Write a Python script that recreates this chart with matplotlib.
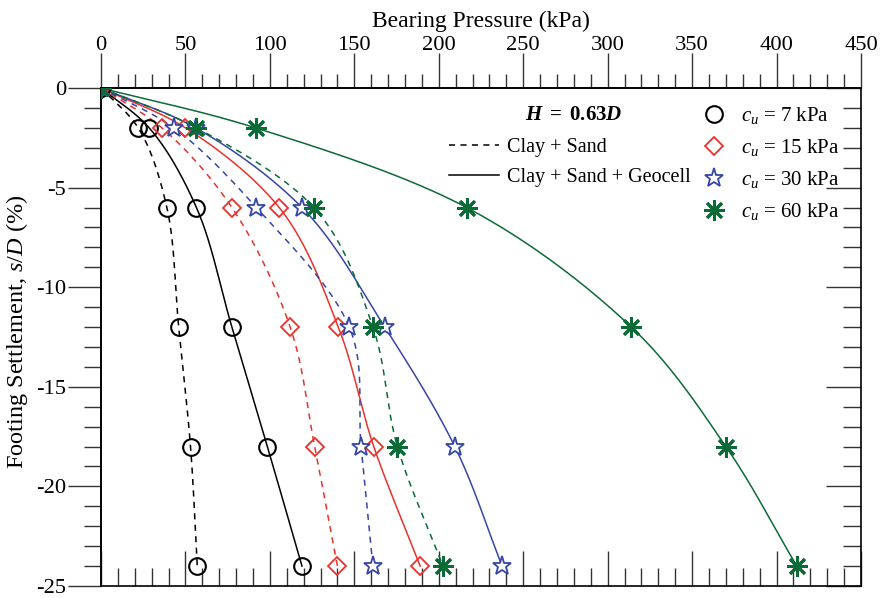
import numpy as np
import matplotlib
matplotlib.use("Agg")
import matplotlib.pyplot as plt
from matplotlib.lines import Line2D
from matplotlib.ticker import MultipleLocator

plt.rcParams['font.family'] = ['Liberation Serif', 'DejaVu Serif']
plt.rcParams['mathtext.fontset'] = 'custom'
plt.rcParams['mathtext.rm'] = 'Liberation Serif'
plt.rcParams['mathtext.it'] = 'Liberation Serif:italic'
plt.rcParams['mathtext.bf'] = 'Liberation Serif:bold'
plt.rcParams['mathtext.bfit'] = 'Liberation Serif:italic:bold'
plt.rcParams['axes.unicode_minus'] = False

# Footing settlement s/D (%)
settlement = [0, -2, -6, -12, -18, -24]

# Bearing pressure (kPa): clay + sand (unreinforced)
p_sand_7 = [0, 22, 39, 46, 53, 57]
p_sand_15 = [0, 36, 77.5, 112, 126.5, 140]
p_sand_30 = [0, 43, 92, 147, 154, 161]
p_sand_60 = [0, 56.5, 126, 161, 175.5, 202.5]

# Bearing pressure (kPa): clay + sand + geocell
p_cell_7 = [0, 28.5, 56.5, 77.5, 98.5, 119]
p_cell_15 = [0, 50, 105.5, 140.5, 161.5, 189]
p_cell_30 = [0, 56, 119, 168, 209.5, 237.5]
p_cell_60 = [0, 91.5, 216.5, 314, 370, 412]

cu_labels = ['7', '15', '30', '60']
colors = ['#000000', '#e8322b', '#3546a6', '#0b6b36']


def smooth(xs, ys, xr=450.0, yr=25.0, n=40):
    """Centripetal Catmull-Rom curve through the points (in scaled space)."""
    P = np.column_stack([np.asarray(xs, float) / xr, np.asarray(ys, float) / yr])
    P = np.vstack([2 * P[0] - P[1], P, 2 * P[-1] - P[-2]])
    out = []
    for i in range(1, len(P) - 2):
        p0, p1, p2, p3 = P[i - 1], P[i], P[i + 1], P[i + 2]
        t0 = 0.0
        t1 = t0 + np.linalg.norm(p1 - p0) ** 0.5 + 1e-9
        t2 = t1 + np.linalg.norm(p2 - p1) ** 0.5 + 1e-9
        t3 = t2 + np.linalg.norm(p3 - p2) ** 0.5 + 1e-9
        t = np.linspace(t1, t2, n)[:, None]
        a1 = (t1 - t) / (t1 - t0) * p0 + (t - t0) / (t1 - t0) * p1
        a2 = (t2 - t) / (t2 - t1) * p1 + (t - t1) / (t2 - t1) * p2
        a3 = (t3 - t) / (t3 - t2) * p2 + (t - t2) / (t3 - t2) * p3
        b1 = (t2 - t) / (t2 - t0) * a1 + (t - t0) / (t2 - t0) * a2
        b2 = (t3 - t) / (t3 - t1) * a2 + (t - t1) / (t3 - t1) * a3
        c = (t2 - t) / (t2 - t1) * b1 + (t - t1) / (t2 - t1) * b2
        out.append(c if i == 1 else c[1:])
    C = np.vstack(out)
    return C[:, 0] * xr, C[:, 1] * yr


fig = plt.figure(figsize=(8.84, 5.98), dpi=100)
ax = fig.add_axes([101 / 884, 1 - 586 / 598, 760 / 884, 498 / 598])

marker_styles = [
    dict(marker='o', ms=12, mfc='none', mew=1.5),
    dict(marker='D', ms=9.5, mfc='none', mew=1.3),
    dict(marker='*', ms=14, mfc='white', mew=1.3),
    dict(marker=(8, 2, 0), ms=15, mfc='none', mew=2.0),
]

sand = [p_sand_7, p_sand_15, p_sand_30, p_sand_60]
cell = [p_cell_7, p_cell_15, p_cell_30, p_cell_60]

for k in range(4):
    for series, ls in ((sand[k], (0, (4, 3.5))), (cell[k], '-')):
        sx, sy = smooth(series, settlement)
        ax.plot(sx, sy, color=colors[k], lw=1.1, ls=ls, zorder=2)
        ax.plot(series, settlement, ls='none', color=colors[k], mec=colors[k],
                zorder=3, **marker_styles[k])

ax.set_xlim(0, 450)
ax.set_ylim(-25, 0)
for s in ax.spines.values():
    s.set_linewidth(1.2)

# Bottom and right: inward ticks without labels
ax.xaxis.set_major_locator(MultipleLocator(50))
ax.xaxis.set_minor_locator(MultipleLocator(10))
ax.yaxis.set_major_locator(MultipleLocator(5))
ax.yaxis.set_minor_locator(MultipleLocator(1))
ax.tick_params(which='both', direction='in', bottom=True, top=False, left=False,
               right=True, labelbottom=False, labelleft=False, color='#333333')
ax.tick_params(which='major', length=25, width=1.0)
ax.tick_params(which='minor', length=13, width=1.0)

# Top and left: outward ticks with labels
top = ax.secondary_xaxis('top')
top.xaxis.set_major_locator(MultipleLocator(50))
top.xaxis.set_minor_locator(MultipleLocator(10))
top.tick_params(which='both', direction='out', labelsize=16.2, color='#333333')
top.tick_params(which='major', length=25, width=1.0, pad=-1.5)
top.tick_params(which='minor', length=10, width=1.0)
top.set_xlabel('Bearing Pressure (kPa)', fontsize=17, labelpad=7)

left = ax.secondary_yaxis('left')
left.yaxis.set_major_locator(MultipleLocator(5))
left.yaxis.set_minor_locator(MultipleLocator(1))
left.tick_params(which='both', direction='out', labelsize=16.2, color='#333333')
left.tick_params(which='major', length=24, width=1.0, pad=1)
left.tick_params(which='minor', length=12, width=1.0)
left.set_ylabel('Footing Settlement, $s/D$ (%)', fontsize=17.5)
left.yaxis.set_label_coords(-0.093, 0.51, transform=ax.transAxes)
for a in (top, left):
    for s in a.spines.values():
        s.set_linewidth(1.2)

# Legend: soil configuration (line style)
ax.text(0.622, 0.944, r'$\mathbfit{H}\ \mathbf{=\ 0.63}\mathbfit{D}$',
        transform=ax.transAxes, ha='center', va='center', fontsize=15)
style_handles = [Line2D([0], [0], color='black', lw=1.1, ls=(0, (4, 3.5))),
                 Line2D([0], [0], color='black', lw=1.1, ls='-')]
leg1 = ax.legend(style_handles, ['Clay + Sand', 'Clay + Sand + Geocell'],
                 loc='upper left', bbox_to_anchor=(0.447, 0.915), frameon=False,
                 fontsize=14.5, handlelength=2.5, handletextpad=0.4, labelspacing=0.5,
                 borderaxespad=0)
ax.add_artist(leg1)

# Legend: undrained shear strength (marker)
cu_handles = [Line2D([0], [0], ls='none', color=colors[k], mec=colors[k], **marker_styles[k])
              for k in range(4)]
ax.legend(cu_handles, [r'$c_u$ = %s kPa' % v for v in cu_labels],
          loc='upper left', bbox_to_anchor=(0.779, 0.982), frameon=False,
          fontsize=15, handlelength=1.2, handletextpad=0.7, labelspacing=0.52,
          borderaxespad=0)

fig.savefig('out.png', dpi=100)
